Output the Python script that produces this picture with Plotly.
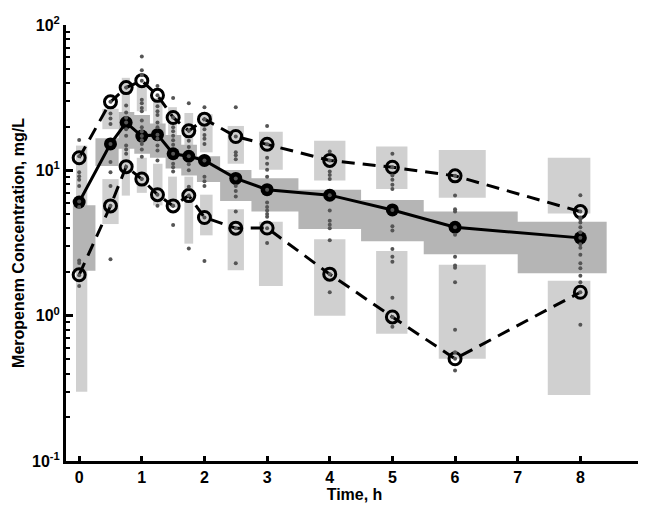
import plotly.graph_objects as go

# ---------------- data ----------------
times = [0, 0.5, 0.75, 1, 1.25, 1.5, 1.75, 2, 2.5, 3, 4, 5, 6, 8]

obs_median = [6.05, 15.2, 21.3, 17.2, 17.6, 13.0, 12.5, 11.7, 8.8, 7.36, 6.75, 5.34, 4.06, 3.43]
obs_p95 = [12.2, 29.6, 37.1, 41.4, 32.8, 23.1, 18.7, 22.5, 17.1, 15.1, 11.7, 10.5, 9.16, 5.2]
obs_p05 = [1.91, 5.69, 10.6, 8.7, 6.8, 5.69, 6.7, 4.74, 4.0, 4.01, 1.93, 0.98, 0.505, 1.45]

# observed concentrations at each nominal time
obs_values = [
    [16.2, 12.5, 9.7, 9.1, 8.6, 7.8, 6.1, 5.6, 2.4, 2.3, 1.9, 1.6],
    [29.6, 24.6, 22.7, 20.8, 15.2, 11.4, 9.7, 7.8, 5.7, 2.44],
    [37.1, 27.9, 25.0, 23.0, 21.3, 19.2, 17.3, 14.8, 13.9, 13.0, 10.6],
    [60.7, 48.8, 45.2, 41.4, 30.6, 29.0, 26.9, 25.5, 22.0, 19.8, 18.5, 17.2, 16.1, 15.2, 13.9, 12.4, 8.7],
    [38.1, 32.8, 27.6, 25.5, 24.0, 21.3, 19.8, 17.6, 16.5, 14.8, 13.7, 11.7, 6.8, 5.7],
    [31.5, 23.1, 19.8, 18.6, 17.3, 16.1, 15.0, 13.0, 11.1, 10.5, 9.8, 5.7, 4.2],
    [29.0, 18.7, 16.0, 14.5, 12.5, 11.0, 10.0, 7.7, 6.7, 2.9],
    [27.2, 22.5, 19.2, 17.5, 16.5, 15.2, 11.7, 9.05, 8.4, 7.8, 4.74, 2.38],
    [27.2, 17.1, 13.3, 12.7, 11.9, 8.8, 7.8, 7.2, 6.6, 5.2, 4.0, 2.29],
    [20.2, 15.1, 12.2, 11.1, 10.1, 9.05, 7.36, 6.0, 5.6, 5.3, 5.0, 4.8, 4.0, 3.16],
    [13.5, 11.7, 9.8, 9.3, 8.7, 6.75, 5.3, 4.5, 4.23, 4.0, 3.3, 1.93, 1.45],
    [13.0, 10.5, 9.2, 8.6, 7.95, 7.44, 5.34, 4.12, 3.85, 2.87, 2.54, 2.35, 1.33, 0.98, 0.84],
    [9.16, 6.7, 5.4, 5.2, 4.06, 3.6, 2.54, 2.21, 2.14, 1.7, 0.80, 0.56, 0.505, 0.42],
    [6.75, 5.2, 4.74, 4.6, 4.38, 4.06, 3.75, 3.43, 3.1, 2.93, 2.63, 2.29, 2.12, 1.88, 1.7, 1.45, 0.865],
]

# prediction intervals of the simulated 95th / 5th percentiles (light boxes)
pi_left = [-0.05, 0.37, 0.68, 0.92, 1.18, 1.42, 1.68, 1.93, 2.37, 2.87, 3.75, 4.74, 5.74, 7.48]
pi_right = [0.13, 0.63, 0.81, 1.08, 1.33, 1.56, 1.82, 2.13, 2.63, 3.25, 4.25, 5.24, 6.49, 8.16]
p95_pi_hi = [14.8, 26.5, 43.3, 38.7, 31.5, 27.2, 24.8, 24.3, 20.2, 18.4, 16.0, 14.6, 13.8, 12.2]
p95_pi_lo = [4.5, 19.2, 24.0, 25.5, 19.8, 15.2, 13.7, 13.3, 11.1, 10.1, 8.5, 7.44, 6.47, 5.04]
p05_pi_hi = [3.0, 8.7, 14.5, 12.2, 11.1, 9.05, 9.05, 6.8, 5.4, 4.43, 3.35, 2.79, 2.24, 1.74]
p05_pi_lo = [0.30, 4.27, 6.7, 7.0, 5.74, 5.54, 3.13, 3.57, 2.05, 1.6, 1.0, 0.75, 0.505, 0.284]

# prediction interval of the simulated median (dark step band)
bin_edges = [-0.1, 0.26, 0.63, 0.88, 1.13, 1.38, 1.63, 1.88, 2.25, 2.75, 3.5, 4.5, 5.5, 7.0, 8.42]
med_pi_hi = [5.74, 16.6, 25.2, 24.0, 21.0, 17.5, 15.0, 12.5, 10.05, 8.83, 7.36, 6.24, 5.2, 4.43]
med_pi_lo = [2.04, 10.7, 14.1, 13.0, 12.2, 10.3, 9.2, 8.3, 6.15, 5.2, 3.95, 3.25, 2.65, 1.96]

y_tick_vals = [0.1, 1, 10, 100]
y_tick_text = ["10<sup>-1</sup>", "10<sup>0</sup>", "10<sup>1</sup>", "10<sup>2</sup>"]
x_tick_vals = [0, 1, 2, 3, 4, 5, 6, 7, 8, 9]
y_minor_vals = [0.2, 0.3, 0.4, 0.5, 0.6, 0.7, 0.8, 0.9,
                2, 3, 4, 5, 6, 7, 8, 9, 20, 30, 40, 50, 60, 70, 80, 90]

LIGHT = "#d0d0d0"
DARK = "#b5b5b5"
DOT = "#555555"

fig = go.Figure()

# light boxes
for i in range(len(times)):
    for lo, hi in ((p95_pi_lo[i], p95_pi_hi[i]), (p05_pi_lo[i], p05_pi_hi[i])):
        l, r = pi_left[i], pi_right[i]
        fig.add_trace(go.Scatter(
            x=[l, r, r, l, l], y=[lo, lo, hi, hi, lo],
            mode="lines", fill="toself", fillcolor=LIGHT,
            line=dict(width=0), hoverinfo="skip", showlegend=False))

# dark step band
bx, by = [], []
for i in range(len(med_pi_hi)):
    bx += [bin_edges[i], bin_edges[i + 1]]
    by += [med_pi_hi[i], med_pi_hi[i]]
for i in reversed(range(len(med_pi_lo))):
    bx += [bin_edges[i + 1], bin_edges[i]]
    by += [med_pi_lo[i], med_pi_lo[i]]
fig.add_trace(go.Scatter(x=bx + [bx[0]], y=by + [by[0]], mode="lines", fill="toself",
                         fillcolor=DARK, line=dict(width=0), hoverinfo="skip", showlegend=False))

# percentile lines
for arr in (obs_p95, obs_p05):
    fig.add_trace(go.Scatter(
        x=times, y=arr, mode="lines+markers",
        line=dict(color="black", width=3, dash="13px,8px"),
        marker=dict(symbol="circle-open", size=12, color="black", line=dict(width=3)),
        showlegend=False))

# median line
fig.add_trace(go.Scatter(
    x=times, y=obs_median, mode="lines+markers",
    line=dict(color="black", width=3),
    marker=dict(symbol="circle", size=13, color="black"),
    showlegend=False))

# observations
dx, dy = [], []
for t, vals in zip(times, obs_values):
    dx += [t] * len(vals)
    dy += vals
fig.add_trace(go.Scatter(x=dx, y=dy, mode="markers",
                         marker=dict(size=4, color=DOT), showlegend=False))

font = dict(family="Liberation Sans, Arial, sans-serif", size=16, color="black", weight="bold")

fig.update_layout(
    width=646, height=505,
    margin=dict(l=58, r=6, t=9, b=52),
    paper_bgcolor="white", plot_bgcolor="white",
    font=font,
    xaxis=dict(
        range=[-0.21, 9], tickmode="array", tickvals=x_tick_vals,
        ticks="inside", ticklen=5, tickwidth=3, tickcolor="black",
        showline=True, linewidth=3, linecolor="black", showgrid=False, zeroline=False,
        ticklabeloverflow="allow",
        tickfont=font, title=dict(text="Time, h", font=font, standoff=4),
    ),
    yaxis=dict(
        type="log", range=[-1, 2], tickmode="array",
        tickvals=y_tick_vals, ticktext=y_tick_text,
        ticks="inside", ticklen=7, tickwidth=3, tickcolor="black",
        showline=True, linewidth=3, linecolor="black", showgrid=False, zeroline=False,
        ticklabeloverflow="allow",
        tickfont=font, title=dict(text="Meropenem Concentration, mg/L", font=font, standoff=4),
        minor=dict(ticks="inside", ticklen=4, tickwidth=2, tickcolor="black", showgrid=False,
                   tickmode="array", tickvals=y_minor_vals),
    ),
)

fig.write_html("out.html")
